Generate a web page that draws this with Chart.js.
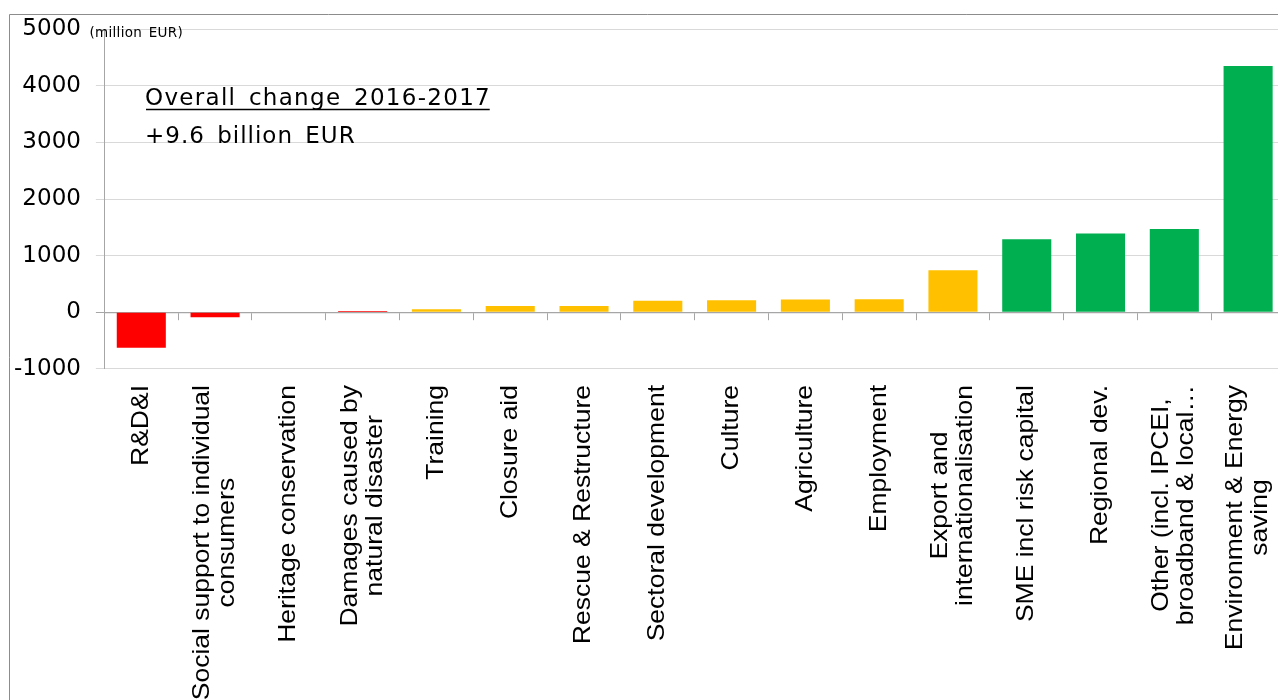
<!DOCTYPE html>
<html><head><meta charset="utf-8">
<script src="https://cdn.jsdelivr.net/npm/chart.js@4"></script>
<style>html,body{margin:0;padding:0;background:#fff;overflow:hidden;width:1278px;height:700px}canvas{display:block}</style>
</head><body>
<canvas id="c" width="1285" height="700"></canvas>
<script>
const categories = [
  ["R&D&I"],
  ["Social support to individual", "consumers"],
  ["Heritage conservation"],
  ["Damages caused by", "natural disaster"],
  ["Training"],
  ["Closure aid"],
  ["Rescue & Restructure"],
  ["Sectoral development"],
  ["Culture"],
  ["Agriculture"],
  ["Employment"],
  ["Export and", "internationalisation"],
  ["SME incl risk capital"],
  ["Regional dev."],
  ["Other (incl. IPCEI,", "broadband & local…"],
  ["Environment & Energy", "saving"]
];
const changeValues = [-630, -90, 0, 20, 50, 110, 110, 200, 212, 223, 228, 740, 1290, 1390, 1470, 4350];
const RED = "#FF0000", YELLOW = "#FFC000", GREEN = "#00B050";
const barColors = [RED, RED, RED, RED, YELLOW, YELLOW, YELLOW, YELLOW, YELLOW, YELLOW, YELLOW, YELLOW, GREEN, GREEN, GREEN, GREEN];
const yTickValues = [-1000, 0, 1000, 2000, 3000, 4000, 5000];
const yTickLabels = ["-1000", "0", "1000", "2000", "3000", "4000", "5000"];
const unitLabel = "(million EUR)";
const noteTitle = "Overall change 2016-2017";
const noteValue = "+9.6 billion EUR";

const decor = {
  id: 'decor',
  beforeDraw(chart) {
    const ctx = chart.ctx;
    ctx.save();
    ctx.fillStyle = '#fff';
    ctx.fillRect(0, 0, chart.width, chart.height);
    ctx.strokeStyle = '#8c8c8c';
    ctx.lineWidth = 1;
    ctx.beginPath();
    ctx.moveTo(9.5, chart.height);
    ctx.lineTo(9.5, 14.5);
    ctx.lineTo(chart.width, 14.5);
    ctx.stroke();
    ctx.restore();
  },
  afterDraw(chart) {
    const ctx = chart.ctx;
    const xs = chart.scales.x;
    ctx.save();
    ctx.font = '26.5px "Liberation Sans", Arial, sans-serif';
    ctx.fillStyle = '#000';
    ctx.textAlign = 'center';
    ctx.textBaseline = 'middle';
    const top = 385;
    const pitch = 25 / 0.88;
    categories.forEach((lines, i) => {
      const px = xs.getPixelForTick(i);
      const maxW = Math.max(...lines.map(l => ctx.measureText(l).width));
      ctx.save();
      ctx.translate(px, top);
      ctx.scale(0.88, 1);
      ctx.rotate(-Math.PI / 2);
      lines.forEach((l, j) => {
        ctx.fillText(l, -maxW / 2, (j - (lines.length - 1) / 2) * pitch);
      });
      ctx.restore();
    });
    ctx.restore();

    ctx.save();
    ctx.fillStyle = '#000';
    ctx.textAlign = 'left';
    ctx.textBaseline = 'alphabetic';
    ctx.font = '23px "DejaVu Sans", sans-serif';
    try { ctx.letterSpacing = '1.3px'; ctx.wordSpacing = '4px'; } catch (e) {}
    ctx.fillText(noteTitle, 145, 105);
    const w = ctx.measureText(noteTitle).width;
    ctx.strokeStyle = '#000';
    ctx.lineWidth = 1.3;
    ctx.beginPath();
    ctx.moveTo(146, 109.5);
    ctx.lineTo(145 + w - 1.3, 109.5);
    ctx.stroke();
    try { ctx.letterSpacing = '1px'; } catch (e) {}
    ctx.fillText(noteValue, 145, 142.7);
    ctx.font = '13.5px "DejaVu Sans", sans-serif';
    try { ctx.letterSpacing = '0.3px'; ctx.wordSpacing = '2px'; } catch (e) {}
    ctx.fillText(unitLabel, 89.5, 36.7);
    ctx.restore();
  }
};

new Chart(document.getElementById('c'), {
  type: 'bar',
  data: {
    labels: categories,
    datasets: [{
      data: changeValues,
      backgroundColor: barColors,
      borderWidth: 0,
      barPercentage: 0.665,
      categoryPercentage: 1
    }]
  },
  options: {
    responsive: false,
    animation: false,
    devicePixelRatio: 1,
    layout: { padding: { top: 29.3, left: 0, right: 0, bottom: 0 } },
    plugins: { legend: { display: false }, tooltip: { enabled: false } },
    scales: {
      x: {
        type: 'category',
        position: 'bottom',
        offset: true,
        grid: { display: false },
        border: { display: false },
        ticks: { display: false },
        afterFit(s) { s.height = 331.3; }
      },
      x2: {
        type: 'category',
        position: { y: 0 },
        offset: true,
        z: 1,
        grid: { drawOnChartArea: false, offset: true, tickLength: 7, color: '#a6a6a6', lineWidth: 1 },
        border: { display: true, color: '#a6a6a6', width: 1.2 },
        ticks: { display: false }
      },
      y: {
        min: -1000,
        max: 5000,
        afterBuildTicks(s) { s.ticks = yTickValues.map(v => ({ value: v })); },
        ticks: {
          padding: 15,
          color: '#000',
          font: { family: '"DejaVu Sans", sans-serif', size: 23 },
          callback: (v) => { const k = yTickValues.indexOf(v); return k >= 0 ? yTickLabels[k] : String(v); }
        },
        grid: {
          tickLength: 8.5,
          color: (c) => (c.tick && c.tick.value === 0) ? '#a6a6a6' : '#d9d9d9',
          lineWidth: 1
        },
        border: { display: true, color: '#a6a6a6', width: 1 },
        afterFit(s) { s.width = 104.4; }
      }
    }
  },
  plugins: [decor]
});
</script>
</body></html>
